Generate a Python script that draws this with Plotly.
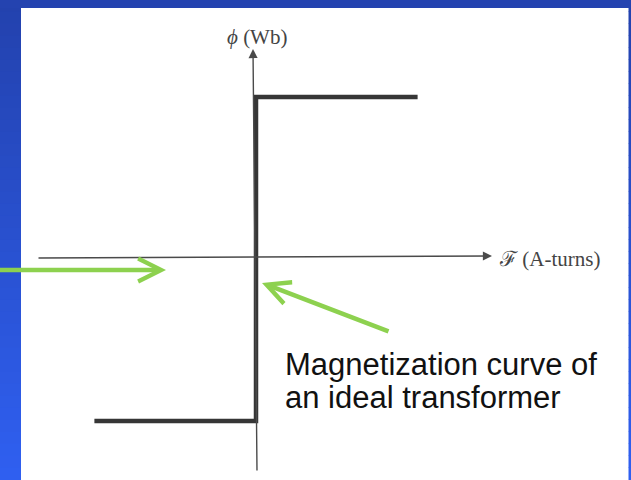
import plotly.graph_objects as go

# ---- data (schematic, normalised units) ----
mmf = [-1.01, 0.0, 0.0, 1.01]          # F (A-turns)
flux = [-1.025, -1.025, 1.0, 1.0]       # phi (Wb)
x_label = "ℱ (A-turns)"
y_label = "<i>ϕ</i> (Wb)"
note_lines = ["Magnetization curve of", "an ideal transformer"]

W, H = 631, 480
X0, Y0, S = 256, 257, 160.0   # pixel origin & scale (for axis ranges)
xr = [-X0 / S, (W - X0) / S]
yr = [(Y0 - H) / S, Y0 / S]

fig = go.Figure()
fig.add_trace(go.Scatter(x=mmf, y=flux, mode="lines",
                         line=dict(color="#363636", width=4.5),
                         hoverinfo="skip", showlegend=False))

# blue gradient frame
shapes = []
top = (35, 66, 174)
bot = (47, 95, 240)
n = 40
for i in range(n):
    t = i / (n - 1)
    c = tuple(int(round(top[k] + (bot[k] - top[k]) * t)) for k in range(3))
    col = "rgb(%d,%d,%d)" % c
    y1 = 1 - i / n
    y0 = 1 - (i + 1) / n
    shapes.append(dict(type="rect", xref="paper", yref="paper", x0=0, x1=21 / W,
                       y0=y0, y1=y1 + 0.001, line=dict(width=0), fillcolor=col, layer="below"))
    shapes.append(dict(type="rect", xref="paper", yref="paper", x0=628.5 / W, x1=1,
                       y0=y0, y1=y1 + 0.001, line=dict(width=0), fillcolor=col, layer="below"))
shapes.append(dict(type="rect", xref="paper", yref="paper", x0=0, x1=1,
                   y0=1 - 8 / H, y1=1, line=dict(width=0), fillcolor="rgb(36,67,176)", layer="below"))

def px(xp):
    return (xp - X0) / S

def py(yp):
    return (Y0 - yp) / S

ann = []
# axes with arrows
ann.append(dict(x=px(492), y=py(256), ax=px(37), ay=py(258), xref="x", yref="y",
                axref="x", ayref="y", showarrow=True, arrowhead=2, arrowsize=1.3,
                arrowwidth=1.4, arrowcolor="#4a4a4a", text=""))
ann.append(dict(x=px(253), y=py(49), ax=px(257), ay=py(472), xref="x", yref="y",
                axref="x", ayref="y", showarrow=True, arrowhead=2, arrowsize=1.3,
                arrowwidth=1.4, arrowcolor="#4a4a4a", text=""))
# axis labels
ann.append(dict(x=px(257), y=py(37), xref="x", yref="y", text=y_label, showarrow=False,
                font=dict(family="Liberation Serif, DejaVu Serif, serif", size=21, color="#444"),
                xanchor="center", yanchor="middle"))
ann.append(dict(x=px(497), y=py(259), xref="x", yref="y", text=x_label, showarrow=False,
                font=dict(family="Liberation Serif, DejaVu Serif, serif", size=21, color="#444"),
                xanchor="left", yanchor="middle"))
# green arrows
ann.append(dict(x=px(166), y=py(270), ax=px(-10), ay=py(270), xref="x", yref="y",
                axref="x", ayref="y", showarrow=True, arrowhead=5, arrowsize=1.0,
                arrowwidth=4.5, arrowcolor="#8dd14f", text=""))
ann.append(dict(x=px(262), y=py(283), ax=px(390), ay=py(332), xref="x", yref="y",
                axref="x", ayref="y", showarrow=True, arrowhead=5, arrowsize=1.0,
                arrowwidth=4.5, arrowcolor="#8dd14f", text=""))
# note
ann.append(dict(x=px(283), y=py(364), xref="x", yref="y", text=note_lines[0], showarrow=False,
                font=dict(family="Liberation Sans, Arial, sans-serif", size=31, color="#111"),
                xanchor="left", yanchor="middle"))
ann.append(dict(x=px(283), y=py(397), xref="x", yref="y", text=note_lines[1], showarrow=False,
                font=dict(family="Liberation Sans, Arial, sans-serif", size=31, color="#111"),
                xanchor="left", yanchor="middle"))

fig.update_layout(width=W, height=H, autosize=False,
                  margin=dict(l=0, r=0, t=0, b=0, pad=0),
                  paper_bgcolor="white", plot_bgcolor="white",
                  xaxis=dict(range=xr, visible=False, fixedrange=True),
                  yaxis=dict(range=yr, visible=False, fixedrange=True),
                  shapes=shapes, annotations=ann, showlegend=False)

fig.write_html("out.html", config={"displayModeBar": False},
               post_script="document.body.style.margin='0';document.body.style.overflow='hidden';")
